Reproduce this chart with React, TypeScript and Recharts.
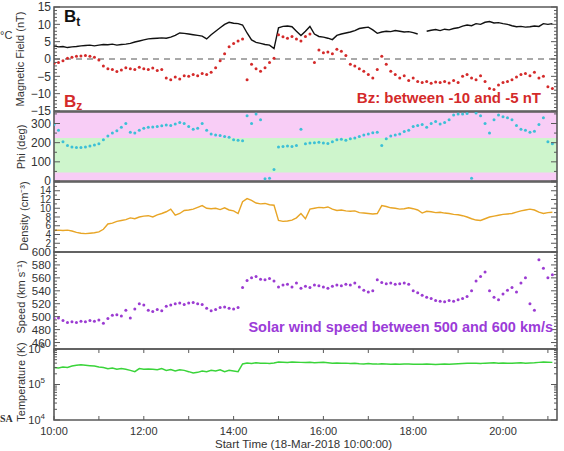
import React from 'react';
import { ComposedChart, Line, XAxis, YAxis, ReferenceArea, ReferenceLine } from 'recharts';

// ---------- sampling grid (6-minute cadence, hours of 18-Mar-2018) ----------
const START_HOUR = 10;
const STEP_HOURS = 0.1;

// ---------- series values ----------
const btValues = [
  3.8, 3.5, 3.6, 3.3, 3.5, 3.6,
  3.8, 3.9, 4.0, 3.8, 4.0, 4.2, 4.1, 4.3, 4.0,
  4.2, 4.3, 4.5, 4.9, 5.2, 5.5,
  5.8, 5.9, 6.0, 6.1, 6.0, 6.3, 6.8, 7.5, 7.4,
  7.2, 7.0, 6.8, 6.6, 5.8, 7.0,
  8.0, 9.0, 10.0, 10.6, 10.3, 10.2, 9.8,
  7.5, 5.5, 4.8, 4.5, 4.2, 4.0, 3.0,
  9.0, 9.4, 9.5, 9.3, 8.0, 6.8,
  8.0, 9.4, 7.2, 6.5, 6.3,
  6.0, 5.6, 6.8, 7.2, 7.5,
  7.8, 8.2, 8.8, 9.0, 9.2,
  8.4, 7.4, 7.8, 8.0, 7.9,
  8.2, 8.0, 7.8, 7.9, 7.6,
  7.2, null, 8.0, 8.3, 8.5,
  8.2, 8.6, 8.4, 8.8, 9.0,
  9.5, 9.8, 9.6, 10.2, 10.0,
  10.6, 10.8, 10.4, 10.5, 10.2,
  10.0, 9.6, 9.3, 9.4, 9.2,
  9.3, 9.5, 9.4, 10.2, 10.0,
  10.2,
];

const bzValues = [
  -1.2, -1.0, -0.5, 0.2, 0.5, 0.8,
  0.9, 1.0, 0.8, 0.5, -0.3, -2.0, -2.8, -3.0, -3.6,
  -3.2, -2.5, -2.8, -3.0, -2.4, -2.8,
  -3.0, -2.6, -3.3, -3.0, -5.5, -6.0, -5.2, -5.8, -4.8,
  -5.0, -4.5, -4.8, -4.2, -4.5, -3.8,
  -2.5, -0.5, 1.5, 3.5, 4.5, 5.2, 5.8,
  -6.0, -1.5, -2.8, -3.5, -2.5, -1.0, 0.2,
  7.0, 6.4, 6.0, 6.5, 5.8, 5.2,
  6.5, 7.2, -1.0, 2.6, 1.8,
  2.0, 1.5, 2.8, 2.2, 1.0,
  -1.5, -2.0, -2.8, -3.5, -4.5,
  -5.5, -3.0, 0.8, -1.5, -3.5,
  -4.5, -5.5, -4.8, -6.2, -5.5,
  -6.5, -6.8, -6.5, -7.0, -6.6,
  -6.8, -6.5, -6.9, -6.2, -6.8,
  -5.0, -4.5, -5.5, -6.0, -4.8,
  -6.5, -8.5, -8.8, -7.5, -6.8,
  -6.5, -6.0, -5.2, -4.5, -4.2,
  -4.8, -3.8, -5.5, -5.0, -8.0,
  -8.5,
];

const phiValues = [
  295, 265, 205, 185, 178, 175,
  175, 178, 182, 188, 195, 215, 235, 250, 262,
  280, 300, 255, 250, 265, 275,
  280, 282, 285, 288, 292, 290, 298, 305, 300,
  285, 270, 275, 300, 265, 245,
  240, 238, 232, 228, 215, 212, 210,
  340, 300, 350, 320, 12, 15, 60,
  178, 180, 182, 180, 185, 270,
  195, 198, 200, 202, 198,
  196, 205, 215, 218, 212,
  220, 225, 232, 240, 245,
  252, 255, 185, 220, 235,
  240, 245, 258, 265, 285,
  290, 295, 280, 300, 310,
  298, 305, 320, 345, 350,
  350, 352, 15, 355, 340,
  300, 250, 320, 345, 335,
  330, 320, 290, 270, 265,
  255, 260, 295, 330, 205,
  195,
];

const densityValues = [
  4.9, 5.0, 4.9, 5.0, 4.8, 4.5,
  4.3, 4.2, 4.3, 4.4, 4.6, 5.2, 6.4, 6.6, 7.0,
  7.2, 7.4, 7.8, 7.6, 8.0, 8.2,
  8.3, 8.0, 8.5, 8.8, 9.2, 9.8, 8.4, 8.8, 9.5,
  9.6, 9.8, 10.2, 10.6, 10.0, 9.9,
  10.0, 9.7, 10.1, 9.6, 9.4, 8.8, 11.5,
  12.2, 11.8, 11.2, 11.0, 11.1, 10.8, 10.7,
  7.2, 7.0, 7.1, 7.3, 7.8, 8.8,
  7.6, 9.8, 10.0, 10.2, 10.1,
  10.3, 9.8, 9.5, 9.6, 9.4,
  9.3, 9.4, 9.0, 8.9, 8.8,
  8.7, 8.8, 10.6, 10.4, 10.1,
  10.0, 9.8, 9.9, 10.1, 9.9,
  9.6, 8.9, 9.3, 9.2, 9.0,
  9.1, 8.9, 8.8, 8.6, 8.5,
  8.3, 8.0, 7.6, 7.3, 7.2,
  7.6, 8.0, 8.2, 8.4, 8.6,
  8.7, 8.8, 9.1, 9.4, 9.6,
  9.8, 9.6, 9.1, 8.8, 9.0,
  9.1,
];

const speedValues = [
  497, 498, 494, 491, 492, 491,
  493, 492, 494, 493, 495, 490, 497, 502, 503,
  501, 510, 498, 512, 520, 518,
  510, 508, 511, 509, 516, 518, 520, 521, 519,
  521, 522, 520, 519, 513, 509,
  511, 514, 515, 513, 512, 514, 545,
  556, 560, 562, 558, 557, 559, 555,
  546, 549, 550, 546, 552, 544,
  547, 545, 549, 548, 546,
  544, 547, 549, 548, 550,
  549, 552, 546, 541, 538,
  540, 557, 553, 551, 552,
  550, 551, 552, 550, 540,
  537, 533, 530, 528, 525,
  524, 523, 525, 524, 526,
  528, 531, 540, 555, 562,
  569, 540, 530, 526, 535,
  541, 545, 538, 552, 560,
  520, 510, 588, 575, 560,
  565,
];

const temperatureValues = [
  300000, 290000, 310000, 300000, 330000, 350000,
  360000, 350000, 340000, 330000, 310000, 300000, 280000, 290000, 270000,
  280000, 270000, 250000, 230000, 280000, 270000,
  275000, 270000, 260000, 280000, 250000, 265000, 240000, 260000, 250000,
  230000, 210000, 220000, 240000, 230000, 250000,
  240000, 260000, 230000, 250000, 240000, 230000, 380000,
  400000, 390000, 410000, 395000, 400000, 390000, 405000,
  430000, 425000, 420000, 430000, 425000, 420000,
  415000, 420000, 410000, 415000, 420000,
  410000, 400000, 405000, 395000, 400000,
  390000, 395000, 385000, 380000, 390000,
  380000, 375000, 385000, 380000, 370000,
  375000, 370000, 380000, 375000, 370000,
  372000, 370000, 375000, 370000, 365000,
  370000, 375000, 370000, 380000, 385000,
  390000, 395000, 400000, 395000, 390000,
  400000, 405000, 410000, 400000, 405000,
  395000, 400000, 405000, 410000, 400000,
  405000, 410000, 420000, 430000, 425000,
  420000,
];

// ---------- axis ticks and labels ----------
const hourTicks = [10, 11, 12, 13, 14, 15, 16, 17, 18, 19, 20, 21];
const labelHours = [10, 12, 14, 16, 18, 20];
const hourLabels = ['10:00', '12:00', '14:00', '16:00', '18:00', '20:00'];

const bMajors = [-15, -10, -5, 0, 5, 10, 15];
const bLabels = ['\u221215', '\u221210', '\u22125', '0', '5', '10', '15'];
const phiMajors = [0, 100, 200, 300];
const phiLabels = ['0', '100', '200', '300'];
const densMajors = [0, 2, 4, 6, 8, 10, 12, 14, 16];
const densLabels = ['', '2', '4', '6', '8', '10', '12', '14', ''];
const speedMajors = [460, 480, 500, 520, 540, 560, 580, 600];
const speedLabels = ['460', '480', '500', '520', '540', '560', '580', '600'];
const tempMajors = [1e4, 1e5, 1e6];
const tempExponents = ['4', '5', '6'];

const seq = (a: number, b: number, s: number) => {
  const out: number[] = [];
  for (let v = a; v <= b + 1e-9; v += s) out.push(Math.round(v * 1000) / 1000);
  return out;
};
const bTicks = seq(-15, 15, 1);
const phiTicks = seq(0, 350, 50);
const densTicks = seq(0, 16, 1);
const speedTicks = seq(450, 600, 5);
const tempTicks = [
  1e4, 2e4, 3e4, 4e4, 5e4, 6e4, 7e4, 8e4, 9e4,
  1e5, 2e5, 3e5, 4e5, 5e5, 6e5, 7e5, 8e5, 9e5, 1e6,
];

// ---------- layout ----------
const W = 564;
const PLOT_L = 54;
const PLOT_R = 557;
const X_MIN = 10;
const X_MAX = 10 + (PLOT_R - PLOT_L) / 44.9;
const FRAME = '#595959';
const FONT = "'Liberation Sans', Arial, Helvetica, sans-serif";
const TXT = '#333';
const PAD = 10;

const P1 = { top: 7, h: 104 };
const P2 = { top: 112, h: 69 };
const P3 = { top: 182, h: 70 };
const P4 = { top: 252, h: 97 };
const P5 = { top: 349, h: 71 };

const data = btValues.map((_, i) => ({
  t: START_HOUR + i * STEP_HOURS,
  bt: btValues[i],
  bz: bzValues[i],
  phi: phiValues[i],
  dens: densityValues[i],
  speed: speedValues[i],
  temp: temperatureValues[i],
}));

const near = (a: number, b: number) => Math.abs(a - b) < 1e-6 * Math.max(1, Math.abs(b));

function makeYTick(majors: number[], labels: (string | null)[], fontSize = 12, sup = false) {
  return (props: any) => {
    const { x, y, payload } = props;
    const idx = majors.findIndex((m) => near(m, payload.value));
    const len = idx >= 0 ? 6 : 3;
    return (
      <g>
        <line x1={x} x2={x + len} y1={y} y2={y} stroke={FRAME} strokeWidth={1} />
        <line x1={PLOT_R} x2={PLOT_R - len} y1={y} y2={y} stroke={FRAME} strokeWidth={1} />
        {idx >= 0 && labels[idx] ? (
          sup ? (
            <text x={x - 9} y={y} dy="0.35em" textAnchor="end" fontSize={fontSize} fill={TXT} fontFamily={FONT}>
              10
              <tspan dy={-5} fontSize={fontSize - 3}>{labels[idx]}</tspan>
            </text>
          ) : (
            <text x={x - 3} y={y} dy="0.35em" textAnchor="end" fontSize={fontSize} fill={TXT} fontFamily={FONT}>
              {labels[idx]}
            </text>
          )
        ) : null}
      </g>
    );
  };
}

function makeXTick(panelH: number, showLabels: boolean) {
  return (props: any) => {
    const { x, y, payload } = props;
    const idx = labelHours.indexOf(payload.value);
    return (
      <g>
        <line x1={x} x2={x} y1={y} y2={y - 4} stroke={FRAME} strokeWidth={1} />
        <line x1={x} x2={x} y1={y - panelH} y2={y - panelH + 4} stroke={FRAME} strokeWidth={1} />
        {showLabels && idx >= 0 ? (
          <text x={x} y={y + 15} textAnchor="middle" fontSize={11} fill={TXT} fontFamily={FONT}>
            {hourLabels[idx]}
          </text>
        ) : null}
      </g>
    );
  };
}

function dotRenderer(color: string, r: number) {
  return (p: any) => {
    const k = `d-${p.index}`;
    if (p.value == null || p.cy == null || Number.isNaN(p.cy)) return <g key={k} />;
    return <circle key={k} cx={p.cx} cy={p.cy} r={r} fill={color} stroke="none" />;
  };
}

const MARGIN = { top: PAD, right: W - PLOT_R, bottom: PAD, left: 0 };
const MARGIN_LAST = { top: PAD, right: W - PLOT_R, bottom: 0, left: 0 };

function xAxisFor(panelH: number, showLabels: boolean) {
  return (
    <XAxis
      type="number"
      dataKey="t"
      domain={[X_MIN, X_MAX]}
      allowDataOverflow
      ticks={hourTicks}
      interval={0}
      axisLine={false}
      tickLine={false}
      tickSize={0}
      tickMargin={0}
      height={showLabels ? 30 : 0}
      tick={makeXTick(panelH, showLabels)}
    />
  );
}

function frame(y1: number, y2: number) {
  return (
    <ReferenceArea x1={X_MIN} x2={X_MAX} y1={y1} y2={y2} fill="none" stroke={FRAME} strokeWidth={1.6} ifOverflow="visible" />
  );
}

const boxStyle = (top: number) => ({ position: 'absolute' as const, left: 0, top: top - PAD });

export default function App() {
  return (
    <div style={{ position: 'absolute', left: 0, top: 0, width: W, height: 451, background: '#fff', overflow: 'hidden' }}>
      {/* Panel 1: magnetic field */}
      <div style={boxStyle(P1.top)}>
        <ComposedChart width={W} height={P1.h + 2 * PAD} data={data} margin={MARGIN}>
          {xAxisFor(P1.h, false)}
          <YAxis type="number" domain={[-15, 15]} allowDataOverflow ticks={bTicks} interval={0} width={PLOT_L}
            axisLine={false} tickLine={false} tickSize={0} tickMargin={0} tick={makeYTick(bMajors, bLabels, 12)} />
          <ReferenceLine y={0} stroke="#555" strokeDasharray="6 5" strokeWidth={1.2} />
          <Line dataKey="bt" stroke="#111" strokeWidth={1.4} dot={false} connectNulls={false} isAnimationActive={false} />
          <Line dataKey="bz" stroke="none" dot={dotRenderer('#d42a2a', 1.5)} isAnimationActive={false} />
          {frame(-15, 15)}
        </ComposedChart>
      </div>

      {/* Panel 2: Phi */}
      <div style={boxStyle(P2.top)}>
        <ComposedChart width={W} height={P2.h + 2 * PAD} data={data} margin={MARGIN}>
          {xAxisFor(P2.h, false)}
          <YAxis type="number" domain={[0, 360]} allowDataOverflow ticks={phiTicks} interval={0} width={PLOT_L}
            axisLine={false} tickLine={false} tickSize={0} tickMargin={0} tick={makeYTick(phiMajors, phiLabels, 12)} />
          <ReferenceArea x1={X_MIN} x2={X_MAX} y1={0} y2={360} fill="#f8cdf6" fillOpacity={1} stroke="none" />
          <ReferenceArea x1={X_MIN} x2={X_MAX} y1={45} y2={225} fill="#cef5cc" fillOpacity={1} stroke="none" />
          <Line dataKey="phi" stroke="none" dot={dotRenderer('#3cc0d6', 1.5)} isAnimationActive={false} />
          {frame(0, 360)}
        </ComposedChart>
      </div>

      {/* Panel 3: Density */}
      <div style={boxStyle(P3.top)}>
        <ComposedChart width={W} height={P3.h + 2 * PAD} data={data} margin={MARGIN}>
          {xAxisFor(P3.h, false)}
          <YAxis type="number" domain={[0, 16]} allowDataOverflow ticks={densTicks} interval={0} width={PLOT_L}
            axisLine={false} tickLine={false} tickSize={0} tickMargin={0} tick={makeYTick(densMajors, densLabels, 10)} />
          <Line dataKey="dens" stroke="#e8a526" strokeWidth={1.4} dot={false} isAnimationActive={false} />
          {frame(0, 16)}
        </ComposedChart>
      </div>

      {/* Panel 4: Speed */}
      <div style={boxStyle(P4.top)}>
        <ComposedChart width={W} height={P4.h + 2 * PAD} data={data} margin={MARGIN}>
          {xAxisFor(P4.h, false)}
          <YAxis type="number" domain={[450, 600]} allowDataOverflow ticks={speedTicks} interval={0} width={PLOT_L}
            axisLine={false} tickLine={false} tickSize={0} tickMargin={0} tick={makeYTick(speedMajors, speedLabels, 11.5)} />
          <Line dataKey="speed" stroke="none" dot={dotRenderer('#9b3bd2', 1.5)} isAnimationActive={false} />
          {frame(450, 600)}
        </ComposedChart>
      </div>

      {/* Panel 5: Temperature */}
      <div style={boxStyle(P5.top)}>
        <ComposedChart width={W} height={P5.h + PAD + 30} data={data} margin={MARGIN_LAST}>
          {xAxisFor(P5.h, true)}
          <YAxis type="number" scale="log" domain={[1e4, 1e6]} allowDataOverflow ticks={tempTicks} interval={0} width={PLOT_L}
            axisLine={false} tickLine={false} tickSize={0} tickMargin={0} tick={makeYTick(tempMajors, tempExponents, 11, true)} />
          <Line dataKey="temp" stroke="#3ad43a" strokeWidth={1.5} dot={false} isAnimationActive={false} />
          {frame(1e4, 1e6)}
        </ComposedChart>
      </div>

      {/* Text overlay */}
      <svg width={W} height={451} style={{ position: 'absolute', left: 0, top: 0, pointerEvents: 'none' }}>
        <text x={0} y={39} fontSize={11} fill={TXT} fontFamily={FONT}>°C</text>
        <text x={0} y={422} fontSize={10} fontWeight="bold" fill={TXT} fontFamily="'Liberation Serif', serif">SA</text>

        <text transform="translate(24,59) rotate(-90)" textAnchor="middle" fontSize={11} fill={TXT} fontFamily={FONT}>Magnetic Field (nT)</text>
        <text transform="translate(25,147) rotate(-90)" textAnchor="middle" fontSize={11} fill={TXT} fontFamily={FONT}>Phi (deg)</text>
        <text transform="translate(28,216) rotate(-90)" textAnchor="middle" fontSize={11} fill={TXT} fontFamily={FONT}>Density (cm⁻³)</text>
        <text transform="translate(25,297) rotate(-90)" textAnchor="middle" fontSize={11} fill={TXT} fontFamily={FONT}>Speed (km s⁻¹)</text>
        <text transform="translate(25,382) rotate(-90)" textAnchor="middle" fontSize={11} fill={TXT} fontFamily={FONT}>Temperature (K)</text>

        <text x={64} y={22} fontSize={17} fontWeight="bold" fill="#111" fontFamily={FONT}>
          B<tspan fontSize={12} dy={4}>t</tspan>
        </text>
        <text x={64} y={107} fontSize={17} fontWeight="bold" fill="#d42a2a" fontFamily={FONT}>
          B<tspan fontSize={12} dy={3}>z</tspan>
        </text>

        <text x={541} y={103} textAnchor="end" fontSize={15} fontWeight="bold" fill="#d42a2a" fontFamily={FONT}>
          Bz: between -10 and -5 nT
        </text>
        <text x={553} y={332} textAnchor="end" fontSize={14.5} fontWeight="bold" fill="#9b3bd8" fontFamily={FONT}>
          Solar wind speed between 500 and 600 km/s
        </text>

        <text x={215} y={448} fontSize={11.5} fill={TXT} fontFamily={FONT}>Start Time (18-Mar-2018 10:00:00)</text>
      </svg>
    </div>
  );
}
